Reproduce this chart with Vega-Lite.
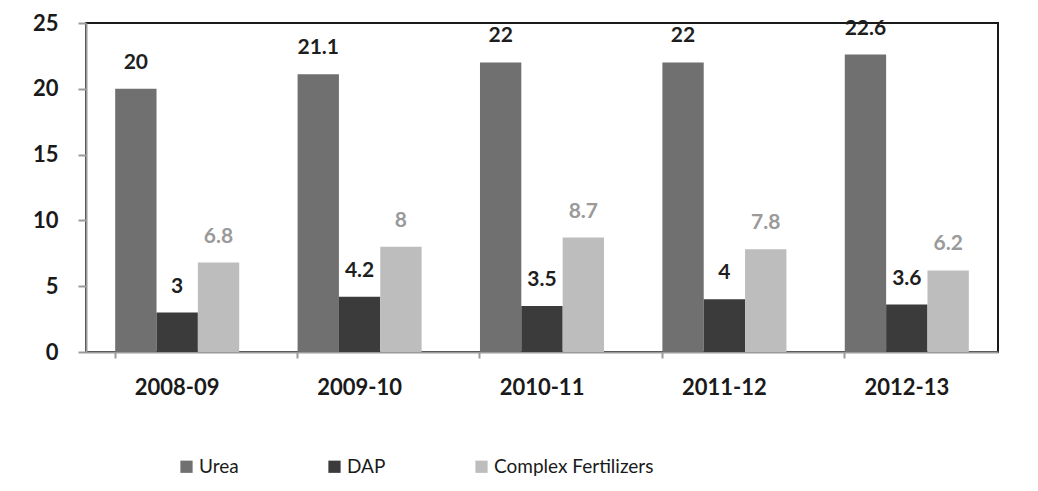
{
  "$schema": "https://vega.github.io/schema/vega-lite/v6.json",
  "width": 912,
  "height": 329,
  "autosize": "none",
  "padding": {"left": 86, "top": 23, "right": 40, "bottom": 139},
  "background": "white",
  "config": {
    "view": {"stroke": "#1a1a1a", "strokeWidth": 2},
    "font": "Lato"
  },
  "data": {
    "values": [
      {"year": "2008-09", "type": "Urea", "value": 20},
      {"year": "2008-09", "type": "DAP", "value": 3},
      {"year": "2008-09", "type": "Complex Fertilizers", "value": 6.8},
      {"year": "2009-10", "type": "Urea", "value": 21.1},
      {"year": "2009-10", "type": "DAP", "value": 4.2},
      {"year": "2009-10", "type": "Complex Fertilizers", "value": 8},
      {"year": "2010-11", "type": "Urea", "value": 22},
      {"year": "2010-11", "type": "DAP", "value": 3.5},
      {"year": "2010-11", "type": "Complex Fertilizers", "value": 8.7},
      {"year": "2011-12", "type": "Urea", "value": 22},
      {"year": "2011-12", "type": "DAP", "value": 4},
      {"year": "2011-12", "type": "Complex Fertilizers", "value": 7.8},
      {"year": "2012-13", "type": "Urea", "value": 22.6},
      {"year": "2012-13", "type": "DAP", "value": 3.6},
      {"year": "2012-13", "type": "Complex Fertilizers", "value": 6.2}
    ]
  },
  "encoding": {
    "x": {
      "field": "year", "type": "nominal",
      "scale": {"paddingInner": 0.32, "paddingOuter": 0.16},
      "axis": {
        "title": null, "labelAngle": 0, "bandPosition": 0,
        "domainColor": "#9a9a9a", "domainWidth": 2,
        "tickColor": "#9a9a9a", "tickWidth": 2, "tickSize": 6,
        "labelFontSize": 22, "labelFontWeight": "bold", "labelColor": "#1a1a1a",
        "labelPadding": 19
      }
    },
    "xOffset": {
      "field": "type", "type": "nominal",
      "scale": {"domain": ["Urea", "DAP", "Complex Fertilizers"], "paddingInner": 0}
    },
    "y": {
      "field": "value", "type": "quantitative",
      "scale": {"domain": [0, 25], "nice": false},
      "axis": {
        "title": null, "grid": false, "values": [0, 5, 10, 15, 20, 25],
        "domainColor": "#9a9a9a", "domainWidth": 2,
        "tickColor": "#9a9a9a", "tickWidth": 2, "tickSize": 8,
        "labelFontSize": 22, "labelFontWeight": "bold", "labelColor": "#1a1a1a", "labelPadding": 20
      }
    }
  },
  "layer": [
    {
      "mark": {"type": "bar"},
      "encoding": {
        "color": {
          "field": "type", "type": "nominal",
          "scale": {"domain": ["Urea", "DAP", "Complex Fertilizers"], "range": ["#707070", "#3b3b3b", "#bdbdbd"]},
          "legend": {
            "title": null, "orient": "none", "direction": "horizontal",
            "legendX": 91, "legendY": 434,
            "symbolType": "square", "symbolSize": 150, "symbolStrokeWidth": 0,
            "labelFontSize": 19, "labelColor": "#1a1a1a", "labelOffset": 3,
            "columnPadding": 86, "labelLimit": 300
          }
        }
      }
    },
    {
      "mark": {"type": "text", "dy": -26, "fontSize": 21, "fontWeight": "bold"},
      "encoding": {
        "text": {"field": "value", "type": "quantitative"},
        "color": {
          "field": "type", "type": "nominal",
          "scale": {"domain": ["Urea", "DAP", "Complex Fertilizers"], "range": ["#1e1e1e", "#1e1e1e", "#9a9a9a"]},
          "legend": null
        }
      }
    }
  ],
  "resolve": {"scale": {"color": "independent"}}
}
